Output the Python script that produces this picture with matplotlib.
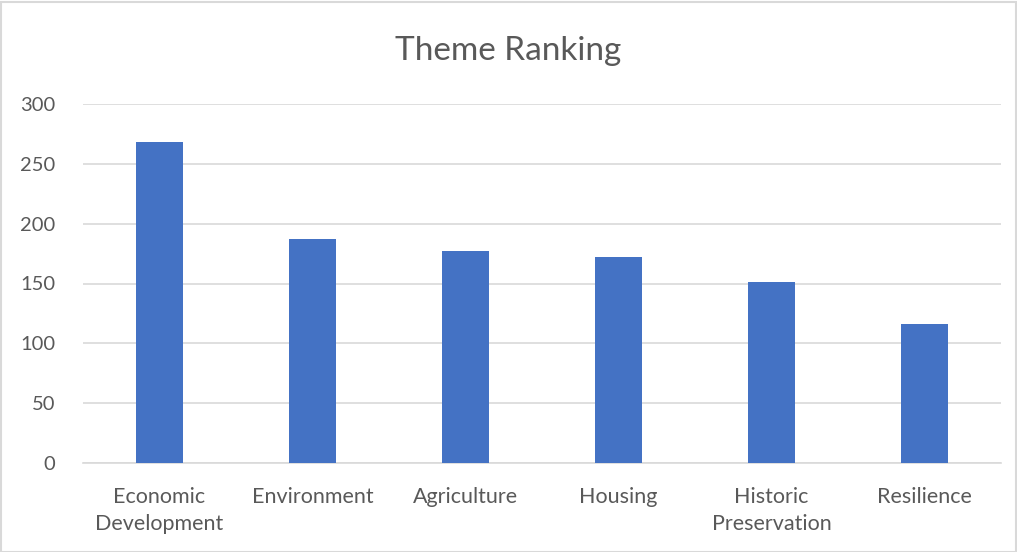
import matplotlib
matplotlib.use("Agg")
import matplotlib.pyplot as plt
from matplotlib.patches import Rectangle

categories = ["Economic\nDevelopment", "Environment", "Agriculture", "Housing",
              "Historic\nPreservation", "Resilience"]
values = [268, 187, 177, 172, 151, 116]
yticks = [0, 50, 100, 150, 200, 250, 300]

plt.rcParams['font.family'] = ['Lato', 'DejaVu Sans']
W, H = 1017, 552
fig = plt.figure(figsize=(W/100, H/100), dpi=100)
ax = fig.add_axes([83/W, 1 - 463/H, (1001-83)/W, (463-104)/H])

x = list(range(len(categories)))
ax.bar(x, values, width=0.31, color="#4472C4", zorder=3)
ax.set_xlim(-0.5, len(categories) - 0.5)
ax.set_ylim(0, 300)
ax.set_yticks(yticks)
ax.set_xticks(x)
ax.set_xticklabels(categories, fontsize=15.5, color="#595959", linespacing=1.45)
ax.tick_params(axis='y', labelsize=14.5, labelcolor="#595959", length=0, pad=20)
ax.tick_params(axis='x', length=0, pad=17)
ax.grid(axis='y', color="#D9D9D9", linewidth=1.2, zorder=0)
for s in ["top", "right", "left"]:
    ax.spines[s].set_visible(False)
ax.spines["bottom"].set_color("#D9D9D9")
ax.spines["bottom"].set_linewidth(1.2)

fig.text(0.5, 1 - 51/H, "Theme Ranking", ha="center", va="center",
         fontsize=24, color="#595959")

fig.patches.append(Rectangle((0.5/W, 0.5/H), 1 - 2/W, 1 - 2/H, transform=fig.transFigure,
                             fill=False, edgecolor="#D9D9D9", linewidth=1.5))

fig.savefig("out.png", dpi=100, facecolor="white")
